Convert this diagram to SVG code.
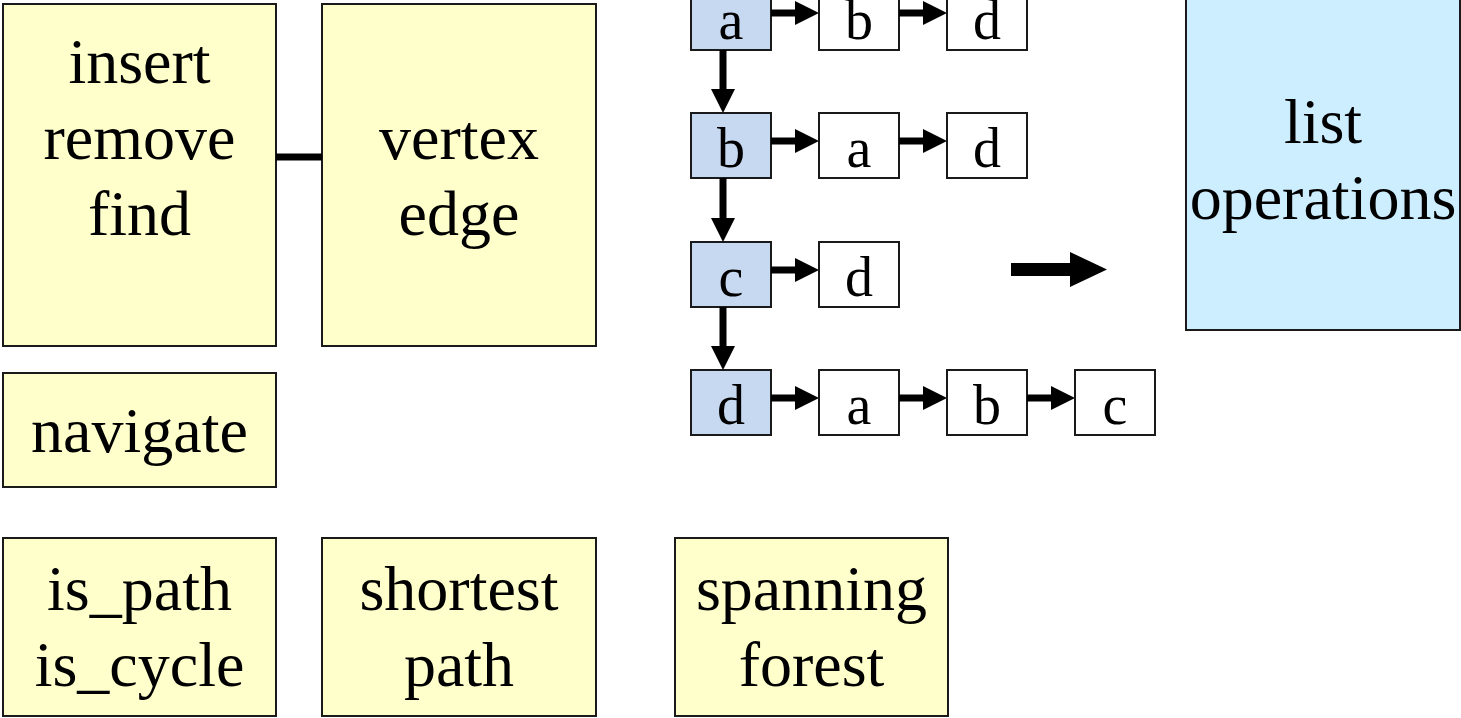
<svg xmlns="http://www.w3.org/2000/svg" width="1461" height="718" viewBox="0 0 1461 718">
  <defs>
    <style>
      .op { fill: #ffffcc; stroke: #1a1a1a; stroke-width: 2; }
      .head { fill: #c6d9f1; stroke: #1a1a1a; stroke-width: 2; }
      .cell { fill: #ffffff; stroke: #1a1a1a; stroke-width: 2; }
      .lst { fill: #cceeff; stroke: #1a1a1a; stroke-width: 2; }
      .big { font-family: "Liberation Serif", "Times New Roman", serif; font-size: 64px; fill: #000; text-anchor: middle; }
      .sm { font-family: "Liberation Serif", "Times New Roman", serif; font-size: 56px; fill: #000; text-anchor: middle; }
      .link { stroke: #000; stroke-width: 7; fill: none; }
      .ptr { stroke: #000; stroke-width: 7; fill: none; marker-end: url(#tri); }
    </style>
    <!-- arrowhead drawn from the end of a shaft that stops at the head's base -->
    <marker id="tri" markerUnits="userSpaceOnUse" markerWidth="24" markerHeight="24" viewBox="0 0 24 24" refX="0" refY="12" orient="auto">
      <path d="M0,0 L24,12 L0,24 z" fill="#000"/>
    </marker>
  </defs>

  <rect width="1461" height="718" fill="#ffffff"/>

  <!-- operation groups -->
  <g id="node-basic">
    <rect class="op" x="3" y="4" width="273" height="342"/>
    <text class="big" x="139.5" y="83">insert</text>
    <text class="big" x="139.5" y="159">remove</text>
    <text class="big" x="139.5" y="235">find</text>
  </g>
  <g id="node-vertex-edge">
    <rect class="op" x="322" y="4" width="274" height="342"/>
    <text class="big" x="459" y="159">vertex</text>
    <text class="big" x="459" y="235">edge</text>
  </g>
  <g id="node-navigate">
    <rect class="op" x="3" y="373" width="273" height="114"/>
    <text class="big" x="139.5" y="452">navigate</text>
  </g>
  <g id="node-path-cycle">
    <rect class="op" x="3" y="538" width="273" height="178"/>
    <text class="big" x="139.5" y="610">is_path</text>
    <text class="big" x="139.5" y="686">is_cycle</text>
  </g>
  <g id="node-shortest-path">
    <rect class="op" x="322" y="538" width="274" height="178"/>
    <text class="big" x="459" y="610">shortest</text>
    <text class="big" x="459" y="686">path</text>
  </g>
  <g id="node-spanning-forest">
    <rect class="op" x="675" y="538" width="273" height="178"/>
    <text class="big" x="811.5" y="610">spanning</text>
    <text class="big" x="811.5" y="686">forest</text>
  </g>
  <g id="node-list-ops">
    <rect class="lst" x="1186" y="-12" width="274" height="342"/>
    <text class="big" x="1323" y="143">list</text>
    <text class="big" x="1323" y="219">operations</text>
  </g>

  <!-- adjacency list: head vertices -->
  <g id="node-head-a">
    <rect class="head" x="691" y="-15" width="80" height="65"/>
    <text class="sm" x="731" y="39">a</text>
  </g>
  <g id="node-head-b">
    <rect class="head" x="691" y="113" width="80" height="65"/>
    <text class="sm" x="731" y="167">b</text>
  </g>
  <g id="node-head-c">
    <rect class="head" x="691" y="242" width="80" height="65"/>
    <text class="sm" x="731" y="296">c</text>
  </g>
  <g id="node-head-d">
    <rect class="head" x="691" y="370" width="80" height="65"/>
    <text class="sm" x="731" y="424">d</text>
  </g>

  <!-- adjacency list: neighbour cells -->
  <g id="node-a-b">
    <rect class="cell" x="819" y="-15" width="80" height="65"/>
    <text class="sm" x="859" y="39">b</text>
  </g>
  <g id="node-a-d">
    <rect class="cell" x="947" y="-15" width="80" height="65"/>
    <text class="sm" x="987" y="39">d</text>
  </g>
  <g id="node-b-a">
    <rect class="cell" x="819" y="113" width="80" height="65"/>
    <text class="sm" x="859" y="167">a</text>
  </g>
  <g id="node-b-d">
    <rect class="cell" x="947" y="113" width="80" height="65"/>
    <text class="sm" x="987" y="167">d</text>
  </g>
  <g id="node-c-d">
    <rect class="cell" x="819" y="242" width="80" height="65"/>
    <text class="sm" x="859" y="296">d</text>
  </g>
  <g id="node-d-a">
    <rect class="cell" x="819" y="370" width="80" height="65"/>
    <text class="sm" x="859" y="424">a</text>
  </g>
  <g id="node-d-b">
    <rect class="cell" x="947" y="370" width="80" height="65"/>
    <text class="sm" x="987" y="424">b</text>
  </g>
  <g id="node-d-c">
    <rect class="cell" x="1075" y="370" width="80" height="65"/>
    <text class="sm" x="1115" y="424">c</text>
  </g>

  <!-- connectors -->
  <g id="connectors">
    <line class="link" x1="276" y1="157" x2="322" y2="157"/>

    <!-- row pointers -->
    <line class="ptr" x1="771" y1="13" x2="795" y2="13"/>
    <line class="ptr" x1="899" y1="13" x2="923" y2="13"/>
    <line class="ptr" x1="771" y1="141" x2="795" y2="141"/>
    <line class="ptr" x1="899" y1="141" x2="923" y2="141"/>
    <line class="ptr" x1="771" y1="270" x2="795" y2="270"/>
    <line class="ptr" x1="771" y1="398" x2="795" y2="398"/>
    <line class="ptr" x1="899" y1="398" x2="923" y2="398"/>
    <line class="ptr" x1="1027" y1="398" x2="1051" y2="398"/>

    <!-- head chain -->
    <line class="ptr" x1="723" y1="50" x2="723" y2="89"/>
    <line class="ptr" x1="723" y1="178" x2="723" y2="218"/>
    <line class="ptr" x1="723" y1="307" x2="723" y2="346"/>

    <!-- maps to list operations -->
    <path d="M1011,263 H1070 V252 L1107,269.5 L1070,287 V276 H1011 z" fill="#000"/>
  </g>
</svg>
